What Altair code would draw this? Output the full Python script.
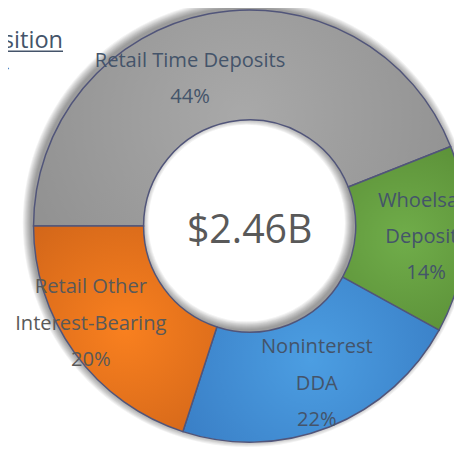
import math
import altair as alt
import pandas as pd

# ---- data ----
categories = ["Retail Time Deposits", "Whoelsale Deposits", "Noninterest DDA",
              "Retail Other Interest-Bearing"]
label_lines = [["Retail Time Deposits"], ["Whoelsale", "Deposits"],
               ["Noninterest", "DDA"], ["Retail Other", "Interest-Bearing"]]
shares = [44, 14, 22, 20]
total_label = "$2.46B"
title_text = "Deposit Composition"
subtitle_text = "As of December 31, 2014"

df = pd.DataFrame({
    "category": categories,
    "share": shares,
    "order": list(range(len(categories))),
    "label": ["\n".join(lines + [f"{s}%"]) for lines, s in zip(label_lines, shares)],
})

# ---- styling ----
FONT = "Open Sans"
CX, CY = 246, 218
R_OUT, R_IN = 220, 108
W, H = 454, 442

def grad(c_center, c_edge):
    return alt.RadialGradient(
        gradient="radial", x1=0.5, y1=0.5, r1=0, x2=0.5, y2=0.5, r2=0.72,
        stops=[alt.GradientStop(offset=0, color=c_center),
               alt.GradientStop(offset=1, color=c_edge)])

style = {
    "Retail Time Deposits": dict(fill=grad("#a9a9a9", "#8a8a8a"), text="#44546a", dx=-30, dy=-7),
    "Whoelsale Deposits": dict(fill=grad("#70ad4a", "#578a34"), text="#44546a", dx=16, dy=-36),
    "Noninterest DDA": dict(fill=grad("#4c9ee2", "#3577bf"), text="#44546a", dx=8, dy=-29),
    "Retail Other Interest-Bearing": dict(fill=grad("#f9801f", "#cf6419"), text="#595959", dx=-29, dy=-34),
}

theta_scale = alt.Scale(domain=[0, 100], range=[-math.pi / 2, 1.5 * math.pi])

base = alt.Chart(df).transform_window(
    cum="sum(share)", sort=[alt.SortField("order")], frame=[None, 0]
).transform_calculate(
    start="datum.cum - datum.share",
    mid="datum.cum - datum.share / 2",
)

one = pd.DataFrame({"k": [0]})

# soft shadow of the ring, offset up-left (visible outside the ring and inside the hole)
shadow = [
    alt.Chart(one).mark_arc(theta=0, theta2=2 * math.pi, radius=R_OUT + k,
                            radius2=R_IN - k, color="#000000", opacity=0.05)
    .encode(x=alt.value(CX - 3), y=alt.value(CY - 3))
    for k in range(0, 9)
]

slices = []
labels = []
for cat in categories:
    st = style[cat]
    sel = base.transform_filter(alt.datum.category == cat)
    slices.append(
        sel.mark_arc(radius=R_OUT, radius2=R_IN, fill=st["fill"],
                     stroke="#51557a", strokeWidth=1.5)
        .encode(theta=alt.Theta("start:Q", scale=theta_scale),
                theta2=alt.Theta2("cum:Q"),
                x=alt.value(CX), y=alt.value(CY))
    )
    labels.append(
        sel.mark_text(radius=(R_OUT + R_IN) / 2, font=FONT, fontSize=20.5,
                      color=st["text"], align="center", baseline="middle",
                      lineBreak="\n", lineHeight=37, dx=st["dx"], dy=st["dy"])
        .encode(theta=alt.Theta("mid:Q", scale=theta_scale),
                text="label:N", x=alt.value(CX), y=alt.value(CY))
    )

center_text = alt.Chart(pd.DataFrame({"t": [total_label]})).mark_text(
    font=FONT, fontSize=40, color="#595959", align="center", baseline="alphabetic"
).encode(text="t:N", x=alt.value(CX), y=alt.value(CY + 17))

title = alt.Chart(pd.DataFrame({"t": [title_text]})).mark_text(
    font=FONT, fontSize=24, color="#44546a", align="right", baseline="alphabetic"
).encode(text="t:N", x=alt.value(56), y=alt.value(37))

underline = alt.Chart(one).mark_rule(color="#44546a", strokeWidth=1.5).encode(
    x=alt.value(0), x2=alt.value(56), y=alt.value(40))

subtitle = alt.Chart(pd.DataFrame({"t": [subtitle_text]})).mark_text(
    font=FONT, fontSize=20, color="#404040", align="right", baseline="alphabetic"
).encode(text="t:N", x=alt.value(1), y=alt.value(62))

chart = alt.layer(
    *shadow, *slices, *labels, center_text, title, underline, subtitle
).properties(
    width=W, height=H, padding=0,
    autosize=alt.AutoSizeParams(type="none"),
).configure_view(strokeWidth=0)

chart.save("out.html", embed_options={"renderer": "svg", "actions": False})
